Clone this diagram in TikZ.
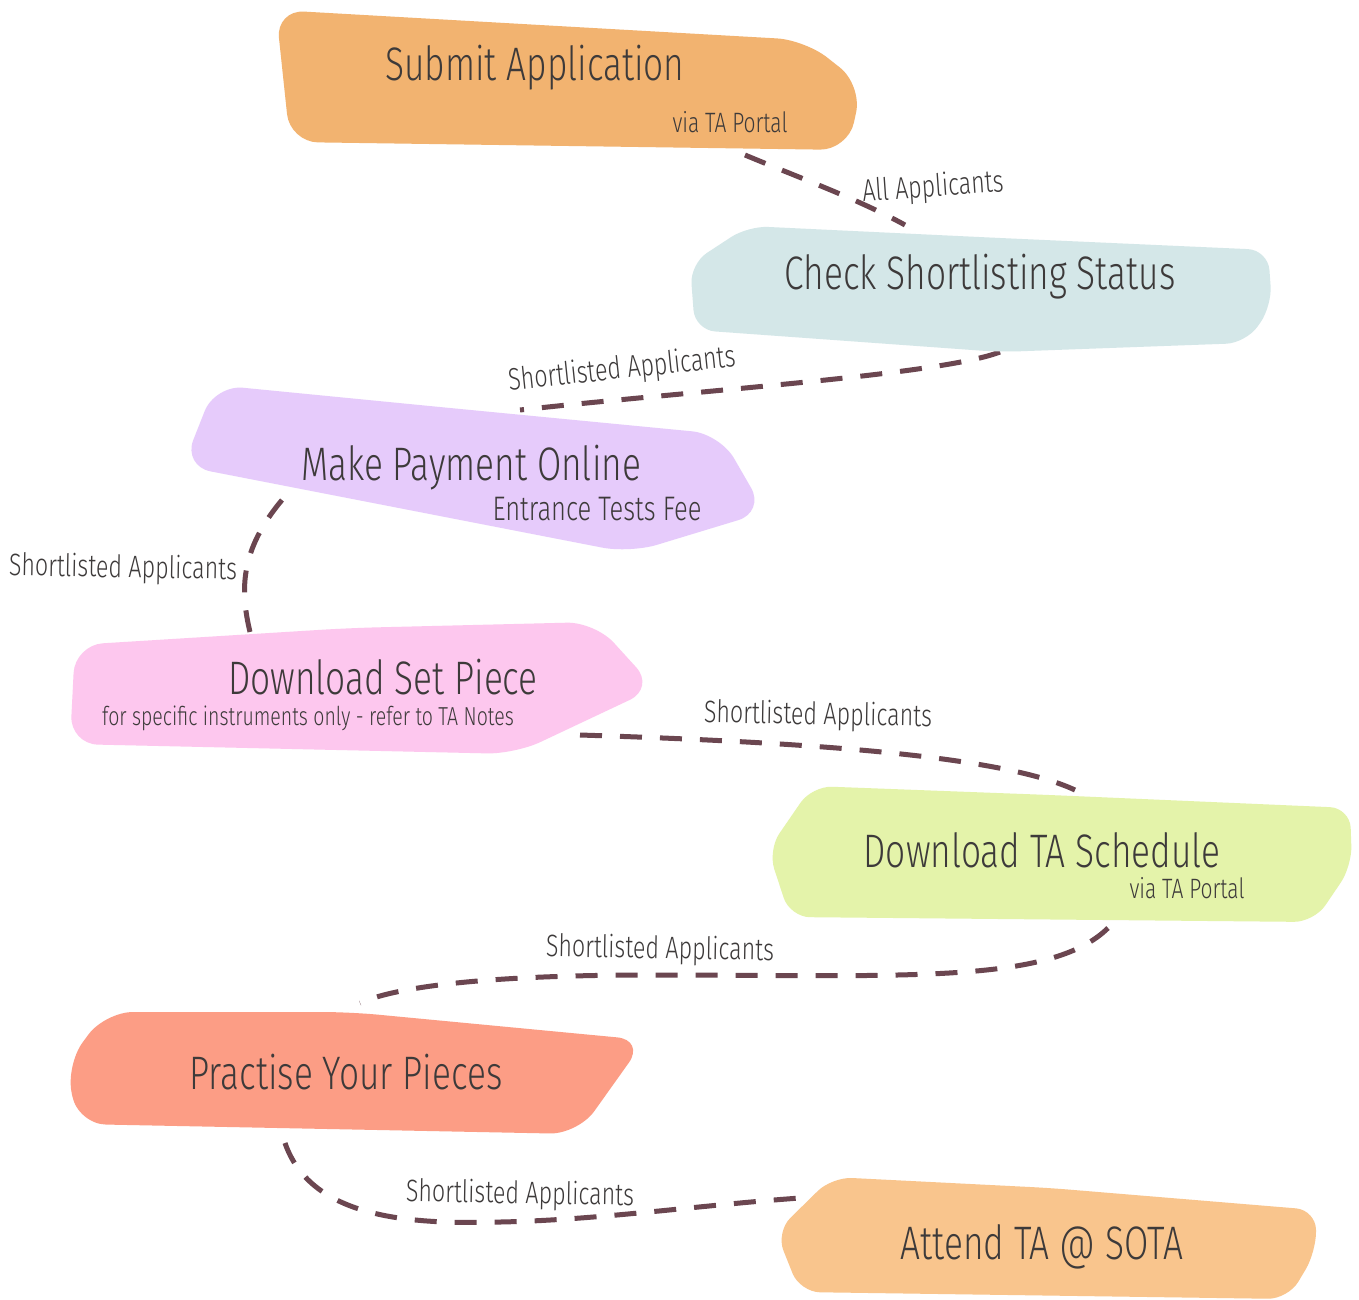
\documentclass[tikz,border=0pt]{standalone}
\usepackage{fontspec}
\setmainfont{Fira Sans}[UprightFont={* Light}, FakeStretch=0.75]
\definecolor{cA}{HTML}{F2B370}
\definecolor{cB}{HTML}{D4E7E8}
\definecolor{cC}{HTML}{E6CBFB}
\definecolor{cD}{HTML}{FDC7EE}
\definecolor{cE}{HTML}{E4F3AA}
\definecolor{cF}{HTML}{FC9D85}
\definecolor{cG}{HTML}{F9C58D}
\definecolor{conn}{HTML}{6B4650}
\definecolor{ink}{HTML}{3D3A3A}
\tikzset{
  blob/.style={rounded corners=28pt},
  softblob/.style={rounded corners=20pt},
  title/.style={text=ink, inner sep=0pt, font=\fontsize{47}{52}\selectfont},
  subtitle/.style={text=ink, inner sep=0pt, font=\fontsize{28}{32}\selectfont},
  lbl/.style={text=ink, inner sep=0pt, font=\fontsize{31}{34}\selectfont},
  link/.style={draw=conn, line width=5pt, dash pattern=on 22pt off 18pt},
}
\begin{document}
\begin{tikzpicture}[x=1pt,y=-1pt]
\useasboundingbox (0,0) rectangle (1359,1299);
\fill[white] (0,0) rectangle (1359,1299);
% connector end points
\coordinate (a-out) at (745,155);
\coordinate (b-in) at (905,225);
\coordinate (b-out) at (1000,352);
\coordinate (c-in) at (520,410);
\coordinate (c-out) at (282,500);
\coordinate (d-in) at (250,632);
\coordinate (d-out) at (580,735);
\coordinate (e-in) at (1075,790);
\coordinate (e-out) at (1108,928);
\coordinate (f-in) at (360,1003);
\coordinate (f-out) at (285,1143);
\coordinate (g-in) at (800,1198);
% connectors
\draw[link] (a-out) .. controls (800,178) and (860,200) .. (b-in);
\draw[link] (b-out) .. controls (940,375) and (700,390) .. (c-in);
\draw[link] (c-out) .. controls (240,550) and (240,590) .. (d-in);
\draw[link] (d-out) .. controls (800,742) and (1000,755) .. (e-in);
\draw[link] (e-out) .. controls (1050,985) and (900,975) .. (650,975) .. controls (500,975) and (400,985) .. (f-in);
\draw[link] (f-out) .. controls (310,1215) and (400,1225) .. (500,1222) .. controls (600,1220) and (700,1205) .. (g-in);
% blobs
\fill[cA, blob] (540,25) -- (805,40) -- (862,85) -- (848,150) -- (290,142) -- (276,10) -- cycle;
\fill[cB, softblob] (1000,238) -- (1268,250) -- (1272,306) -- (1246,343) -- (1000,352) -- (695,330) -- (690,264) -- (748,226) -- cycle;
\fill[cC, blob] (450,408) -- (720,434) -- (765,512) -- (630,553) -- (183,466) -- (215,385) -- cycle;
\fill[cD, blob] (350,628) -- (595,622) -- (655,688) -- (515,754) -- (70,744) -- (75,645) -- cycle;
\fill[cE, softblob] (1050,795) -- (1350,808) -- (1352,866) -- (1314,922) -- (790,917) -- (768,850) -- (812,786) -- cycle;
\fill[cF, blob] (350,1012) -- (645,1040) -- (578,1134) -- (78,1124) -- (66,1065) -- (105,1012) -- cycle;
\fill[cG, softblob] (1050,1188) -- (1316,1210) -- (1316,1252) -- (1288,1299) -- (800,1292) -- (776,1232) -- (832,1177) -- cycle;
% titles
\node[title] (a) at (535,68) {Submit Application};
\node[subtitle, anchor=base] (a-sub) at (730,132) {via TA Portal};
\node[title] (b) at (980,277) {Check Shortlisting Status};
\node[title] (c) at (471,468) {Make Payment Online};
\node[subtitle, anchor=base, font=\fontsize{34}{38}\selectfont] (c-sub) at (597,520) {Entrance Tests Fee};
\node[title] (d) at (383,677) {Download Set Piece};
\node[subtitle, anchor=base, font=\fontsize{26}{30}\selectfont] (d-sub) at (308,725) {for specific instruments only - refer to TA Notes};
\node[title] (e) at (1042,850) {Download TA Schedule};
\node[subtitle, anchor=base] (e-sub) at (1187,898) {via TA Portal};
\node[title] (f) at (346,1072) {Practise Your Pieces};
\node[title] (g) at (1042,1247) {Attend TA @ SOTA};
% connector labels
\node[lbl, rotate=4] (l1) at (933,188) {All Applicants};
\node[lbl, rotate=6] (l2) at (622,370) {Shortlisted Applicants};
\node[lbl, rotate=-1] (l3) at (123,569) {Shortlisted Applicants};
\node[lbl, rotate=-1] (l4) at (818,716) {Shortlisted Applicants};
\node[lbl, rotate=-1] (l5) at (660,950) {Shortlisted Applicants};
\node[lbl, rotate=-1] (l6) at (520,1195) {Shortlisted Applicants};
\end{tikzpicture}
\end{document}
